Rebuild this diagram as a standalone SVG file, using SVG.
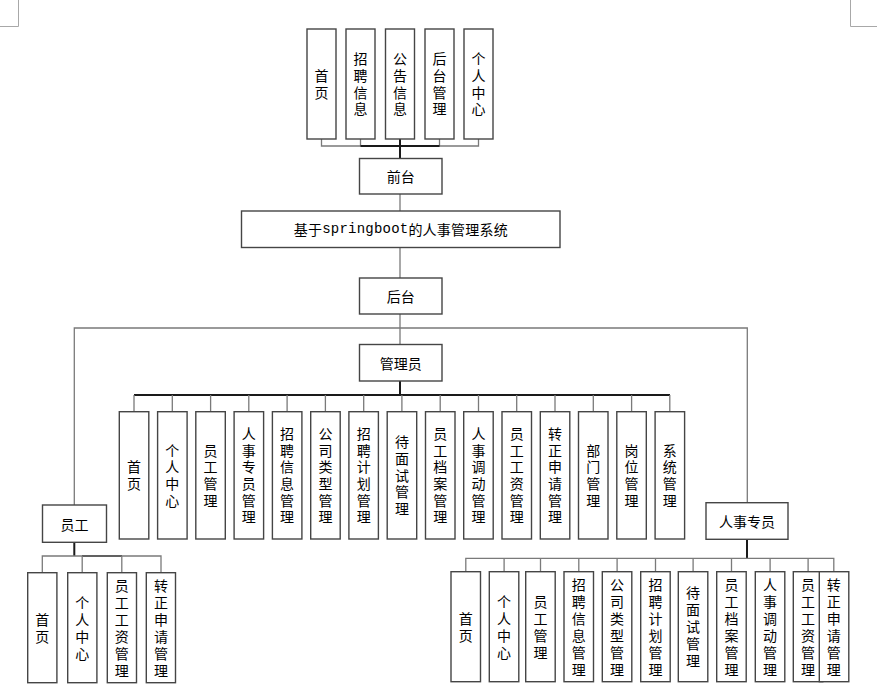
<svg xmlns="http://www.w3.org/2000/svg" width="877" height="692" viewBox="0 0 877 692">
<style>
.box{fill:#fff;stroke:#454545;stroke-width:1.4}
.ln{stroke:#7a7a7a;stroke-width:1.3;fill:none}
.tk{stroke:#1a1a1a;stroke-width:2;fill:none}
.mark{stroke:#a8a8a8;stroke-width:1;fill:none}
.t{font-family:"Noto Sans CJK SC","Noto Sans",sans-serif;font-size:14px;fill:#000;text-anchor:middle;dominant-baseline:central}
.v{font-family:"Noto Sans CJK SC","Noto Sans",sans-serif;font-size:14px;fill:#000;text-anchor:middle;writing-mode:vertical-rl;text-orientation:upright;letter-spacing:2.7px}
.vt{letter-spacing:2.6px}
.vb{letter-spacing:3px}
.mono{font-family:"Liberation Mono","Noto Sans CJK SC",monospace}
</style>
<rect width="877" height="692" fill="#fff"/>
<g id="page-marks">
<path class="mark" d="M18.5 0V26.5H0M850.5 0V26.5H877"/>
</g>
<g id="connectors">
<path class="ln" d="M321.5 139V146H478.5V139M360.5 139V146M439.5 139V146"/>
<path class="tk" d="M360.5 146H439.5M400 139V158.5"/>
<path class="ln" d="M400 194V211M400 247.5V278M400 314V344.5"/>
<path class="ln" d="M74.3 505V328H747.3V502.7"/>
<path class="tk" d="M400 381V395M134 395H670"/>
<path class="ln" d="M134 395V411.7M172.3 395V411.7M210.6 395V411.7M248.8 395V411.7M287.1 395V411.7M325.4 395V411.7M363.7 395V411.7M401.9 395V411.7M440.2 395V411.7M478.5 395V411.7M516.7 395V411.7M555 395V411.7M593.3 395V411.7M631.6 395V411.7M669.8 395V411.7"/>
<path class="tk" d="M74.3 542.3V556M82 556H122"/>
<path class="ln" d="M42.3 572.7V556H161V572.7M82.2 556V572.7M121.8 556V572.7"/>
<path class="tk" d="M747 539.3V558.3"/>
<path class="ln" d="M465.8 571.7V558.3H833.8V571.7M504.1 558.3V571.7M540.5 558.3V571.7M578.8 558.3V571.7M617.1 558.3V571.7M655.5 558.3V571.7M693.1 558.3V571.7M731.5 558.3V571.7M770.1 558.3V571.7M808.1 558.3V571.7"/>
</g>
<g id="top-shouye"><rect class="box" x="307" y="29" width="29" height="110"/><text class="v vt" x="321.5" y="85.3">首页</text></g>
<g id="top-zhaopin"><rect class="box" x="346" y="29" width="29" height="110"/><text class="v vt" x="360.5" y="85.3">招聘信息</text></g>
<g id="top-gonggao"><rect class="box" x="385.5" y="29" width="29" height="110"/><text class="v vt" x="400" y="85.3">公告信息</text></g>
<g id="top-houtai"><rect class="box" x="425" y="29" width="29" height="110"/><text class="v vt" x="439.5" y="85.3">后台管理</text></g>
<g id="top-geren"><rect class="box" x="464" y="29" width="29" height="110"/><text class="v vt" x="478.5" y="85.3">个人中心</text></g>
<g id="qiantai"><rect class="box" x="359.5" y="158.5" width="82.5" height="35.5"/><text class="t" x="400.7" y="176.2">前台</text></g>
<g id="system"><rect class="box" x="241.5" y="211" width="318.5" height="36.5"/><text class="t" x="400.7" y="229.3" textLength="214" lengthAdjust="spacing">基于<tspan class="mono">springboot</tspan>的人事管理系统</text></g>
<g id="houtai"><rect class="box" x="359.5" y="278" width="82.5" height="36"/><text class="t" x="400.7" y="296">后台</text></g>
<g id="admin"><rect class="box" x="359.5" y="344.5" width="82.5" height="36.5"/><text class="t" x="400.7" y="362.8">管理员</text></g>
<g id="a1"><rect class="box" x="119.3" y="411.7" width="29.5" height="127.3"/><text class="v" x="134" y="476.6">首页</text></g>
<g id="a2"><rect class="box" x="157.6" y="411.7" width="29.5" height="127.3"/><text class="v" x="172.3" y="476.6">个人中心</text></g>
<g id="a3"><rect class="box" x="195.8" y="411.7" width="29.5" height="127.3"/><text class="v" x="210.6" y="476.6">员工管理</text></g>
<g id="a4"><rect class="box" x="234.1" y="411.7" width="29.5" height="127.3"/><text class="v" x="248.8" y="476.6">人事专员管理</text></g>
<g id="a5"><rect class="box" x="272.4" y="411.7" width="29.5" height="127.3"/><text class="v" x="287.1" y="476.6">招聘信息管理</text></g>
<g id="a6"><rect class="box" x="310.7" y="411.7" width="29.5" height="127.3"/><text class="v" x="325.4" y="476.6">公司类型管理</text></g>
<g id="a7"><rect class="box" x="348.9" y="411.7" width="29.5" height="127.3"/><text class="v" x="363.7" y="476.6">招聘计划管理</text></g>
<g id="a8"><rect class="box" x="387.2" y="411.7" width="29.5" height="127.3"/><text class="v" x="401.9" y="476.6">待面试管理</text></g>
<g id="a9"><rect class="box" x="425.5" y="411.7" width="29.5" height="127.3"/><text class="v" x="440.2" y="476.6">员工档案管理</text></g>
<g id="a10"><rect class="box" x="463.7" y="411.7" width="29.5" height="127.3"/><text class="v" x="478.5" y="476.6">人事调动管理</text></g>
<g id="a11"><rect class="box" x="502" y="411.7" width="29.5" height="127.3"/><text class="v" x="516.7" y="476.6">员工工资管理</text></g>
<g id="a12"><rect class="box" x="540.3" y="411.7" width="29.5" height="127.3"/><text class="v" x="555" y="476.6">转正申请管理</text></g>
<g id="a13"><rect class="box" x="578.5" y="411.7" width="29.5" height="127.3"/><text class="v" x="593.3" y="476.6">部门管理</text></g>
<g id="a14"><rect class="box" x="616.8" y="411.7" width="29.5" height="127.3"/><text class="v" x="631.6" y="476.6">岗位管理</text></g>
<g id="a15"><rect class="box" x="655.1" y="411.7" width="29.5" height="127.3"/><text class="v" x="669.8" y="476.6">系统管理</text></g>
<g id="yuangong"><rect class="box" x="42.5" y="505" width="64" height="37.3"/><text class="t" x="74.5" y="523.6">员工</text></g>
<g id="e1"><rect class="box" x="27.7" y="572.7" width="29.2" height="110"/><text class="v vb" x="42.3" y="629.2">首页</text></g>
<g id="e2"><rect class="box" x="67.7" y="572.7" width="29.2" height="110"/><text class="v vb" x="82.2" y="629.2">个人中心</text></g>
<g id="e3"><rect class="box" x="107.3" y="572.7" width="29.2" height="110"/><text class="v vb" x="121.8" y="629.2">员工工资管理</text></g>
<g id="e4"><rect class="box" x="146.3" y="572.7" width="29.2" height="110"/><text class="v vb" x="161" y="629.2">转正申请管理</text></g>
<g id="renshi"><rect class="box" x="706" y="502.7" width="82" height="36.6"/><text class="t" x="747" y="521">人事专员</text></g>
<g id="h1"><rect class="box" x="451" y="571.7" width="29.5" height="110"/><text class="v vb" x="465.8" y="628.2">首页</text></g>
<g id="h2"><rect class="box" x="489.3" y="571.7" width="29.5" height="110"/><text class="v vb" x="504.1" y="628.2">个人中心</text></g>
<g id="h3"><rect class="box" x="525.7" y="571.7" width="29.5" height="110"/><text class="v vb" x="540.5" y="628.2">员工管理</text></g>
<g id="h4"><rect class="box" x="564" y="571.7" width="29.5" height="110"/><text class="v vb" x="578.8" y="628.2">招聘信息管理</text></g>
<g id="h5"><rect class="box" x="602.3" y="571.7" width="29.5" height="110"/><text class="v vb" x="617.1" y="628.2">公司类型管理</text></g>
<g id="h6"><rect class="box" x="640.7" y="571.7" width="29.5" height="110"/><text class="v vb" x="655.5" y="628.2">招聘计划管理</text></g>
<g id="h7"><rect class="box" x="678.3" y="571.7" width="29.5" height="110"/><text class="v vb" x="693.1" y="628.2">待面试管理</text></g>
<g id="h8"><rect class="box" x="716.7" y="571.7" width="29.5" height="110"/><text class="v vb" x="731.5" y="628.2">员工档案管理</text></g>
<g id="h9"><rect class="box" x="755.3" y="571.7" width="29.5" height="110"/><text class="v vb" x="770.1" y="628.2">人事调动管理</text></g>
<g id="h10"><rect class="box" x="793.3" y="571.7" width="29.5" height="110"/><text class="v vb" x="808.1" y="628.2">员工工资管理</text></g>
<g id="h11"><rect class="box" x="819.3" y="571.7" width="29.5" height="110"/><text class="v vb" x="833.8" y="628.2">转正申请管理</text></g>
</svg>
